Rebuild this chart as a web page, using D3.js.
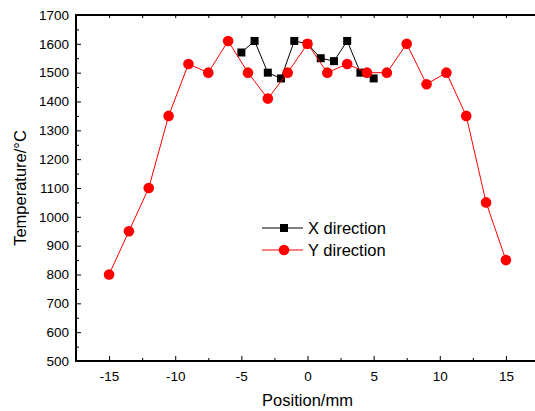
<!DOCTYPE html>
<html>
<head>
<meta charset="utf-8">
<script src="https://cdn.jsdelivr.net/npm/d3@7"></script>
<style>
  html, body { margin: 0; padding: 0; background: #fff; }
  svg { display: block; font-family: "Liberation Sans", Arial, sans-serif; }
</style>
</head>
<body>
<div id="chart"></div>
<script>
  // X direction (black squares)
  const xDirPos = [-5, -4, -3, -2, -1, 0, 1, 2, 3, 4, 5];
  const xDirTemp = [1570, 1610, 1500, 1480, 1610, 1600, 1550, 1540, 1610, 1500, 1480];

  // Y direction (red circles)
  const yDirPos = [-15, -13.5, -12, -10.5, -9, -7.5, -6, -4.5, -3, -1.5, 0,
    1.5, 3, 4.5, 6, 7.5, 9, 10.5, 12, 13.5, 15];
  const yDirTemp = [800, 950, 1100, 1350, 1530, 1500, 1610, 1500, 1410, 1500, 1600,
    1500, 1530, 1500, 1500, 1600, 1460, 1500, 1350, 1050, 850];

  const xTicks = [-15, -10, -5, 0, 5, 10, 15];
  const yTicks = [500, 600, 700, 800, 900, 1000, 1100, 1200, 1300, 1400, 1500, 1600, 1700];

  const W = 535, H = 411;
  const svg = d3.select("#chart").append("svg").attr("width", W).attr("height", H);
  const xScale = d3.scaleLinear().domain([-17.5, 17.5]).range([76, 539]);
  const yScale = d3.scaleLinear().domain([500, 1700]).range([361, 15]);

  const x0 = xScale(-17.5), yTop = yScale(1700), yBot = yScale(500);

  // frame: left, bottom, top
  svg.append("line").attr("x1", x0).attr("x2", x0).attr("y1", yTop - 1).attr("y2", yBot + 1)
    .attr("stroke", "#000").attr("stroke-width", 2);
  svg.append("line").attr("x1", x0 - 1).attr("x2", W).attr("y1", yBot).attr("y2", yBot)
    .attr("stroke", "#000").attr("stroke-width", 2);
  svg.append("line").attr("x1", x0 - 1).attr("x2", W).attr("y1", yTop).attr("y2", yTop)
    .attr("stroke", "#000").attr("stroke-width", 2);

  // minor ticks
  const minorX = d3.range(-17.5, 17.6, 2.5).filter(d => !xTicks.includes(d));
  const minorY = d3.range(550, 1700, 100);
  svg.append("g").attr("transform", `translate(0,${yBot})`)
    .call(d3.axisBottom(xScale).tickValues(minorX).tickSize(-3).tickFormat("").tickSizeOuter(0));
  svg.append("g").attr("transform", `translate(${x0},0)`)
    .call(d3.axisLeft(yScale).tickValues(minorY).tickSize(-3).tickFormat("").tickSizeOuter(0));
  svg.append("g").attr("transform", `translate(0,${yTop})`)
    .call(d3.axisTop(xScale).tickValues(d3.range(-15, 17.6, 2.5)).tickSize(-3).tickFormat("").tickSizeOuter(0));

  // major ticks and labels
  const xAxis = svg.append("g").attr("transform", `translate(0,${yBot})`)
    .call(d3.axisBottom(xScale).tickValues(xTicks).tickSize(-5).tickSizeOuter(0).tickPadding(10)
      .tickFormat(d => d < 0 ? "-" + Math.abs(d) : String(d)));
  const yAxis = svg.append("g").attr("transform", `translate(${x0},0)`)
    .call(d3.axisLeft(yScale).tickValues(yTicks).tickSize(-5).tickSizeOuter(0).tickPadding(7)
      .tickFormat(d3.format("d")));

  svg.selectAll(".domain").attr("stroke", "none");
  xAxis.selectAll("text").attr("font-size", 13.5).attr("font-family", "Liberation Sans, Arial, sans-serif");
  yAxis.selectAll("text").attr("font-size", 13.5).attr("font-family", "Liberation Sans, Arial, sans-serif");

  // axis titles
  svg.append("text")
    .attr("x", xScale(0))
    .attr("y", 406)
    .attr("text-anchor", "middle")
    .attr("font-size", 16.5)
    .text("Position/mm");
  svg.append("text")
    .attr("transform", `translate(26,${yScale(1100)}) rotate(-90)`)
    .attr("text-anchor", "middle")
    .attr("font-size", 16.5)
    .text("Temperature/°C");

  const line = d3.line().x(d => xScale(d[0])).y(d => yScale(d[1]));
  const xData = xDirPos.map((p, i) => [p, xDirTemp[i]]);
  const yData = yDirPos.map((p, i) => [p, yDirTemp[i]]);

  // X direction series
  svg.append("path").datum(xData)
    .attr("fill", "none").attr("stroke", "#000").attr("stroke-width", 1)
    .attr("d", line);
  svg.selectAll(".sq").data(xData).enter().append("rect")
    .attr("class", "sq")
    .attr("x", d => xScale(d[0]) - 4)
    .attr("y", d => yScale(d[1]) - 4)
    .attr("width", 8).attr("height", 8)
    .attr("fill", "#000");

  // Y direction series
  svg.append("path").datum(yData)
    .attr("fill", "none").attr("stroke", "#f00").attr("stroke-width", 1)
    .attr("d", line);
  svg.selectAll(".dot").data(yData).enter().append("circle")
    .attr("class", "dot")
    .attr("cx", d => xScale(d[0]))
    .attr("cy", d => yScale(d[1]))
    .attr("r", 5.3)
    .attr("fill", "#f00");

  // legend
  const legend = svg.append("g").attr("transform", "translate(262,228)");
  legend.append("line").attr("x1", 0).attr("x2", 41).attr("y1", 0).attr("y2", 0)
    .attr("stroke", "#000").attr("stroke-width", 1);
  legend.append("rect").attr("x", 18).attr("y", -4).attr("width", 8).attr("height", 8).attr("fill", "#000");
  legend.append("text").attr("x", 46).attr("y", 6).attr("font-size", 16.5).text("X direction");
  legend.append("line").attr("x1", 0).attr("x2", 41).attr("y1", 22).attr("y2", 22)
    .attr("stroke", "#f00").attr("stroke-width", 1);
  legend.append("circle").attr("cx", 22).attr("cy", 22).attr("r", 5.3).attr("fill", "#f00");
  legend.append("text").attr("x", 46).attr("y", 28).attr("font-size", 16.5).text("Y direction");
</script>
</body>
</html>
